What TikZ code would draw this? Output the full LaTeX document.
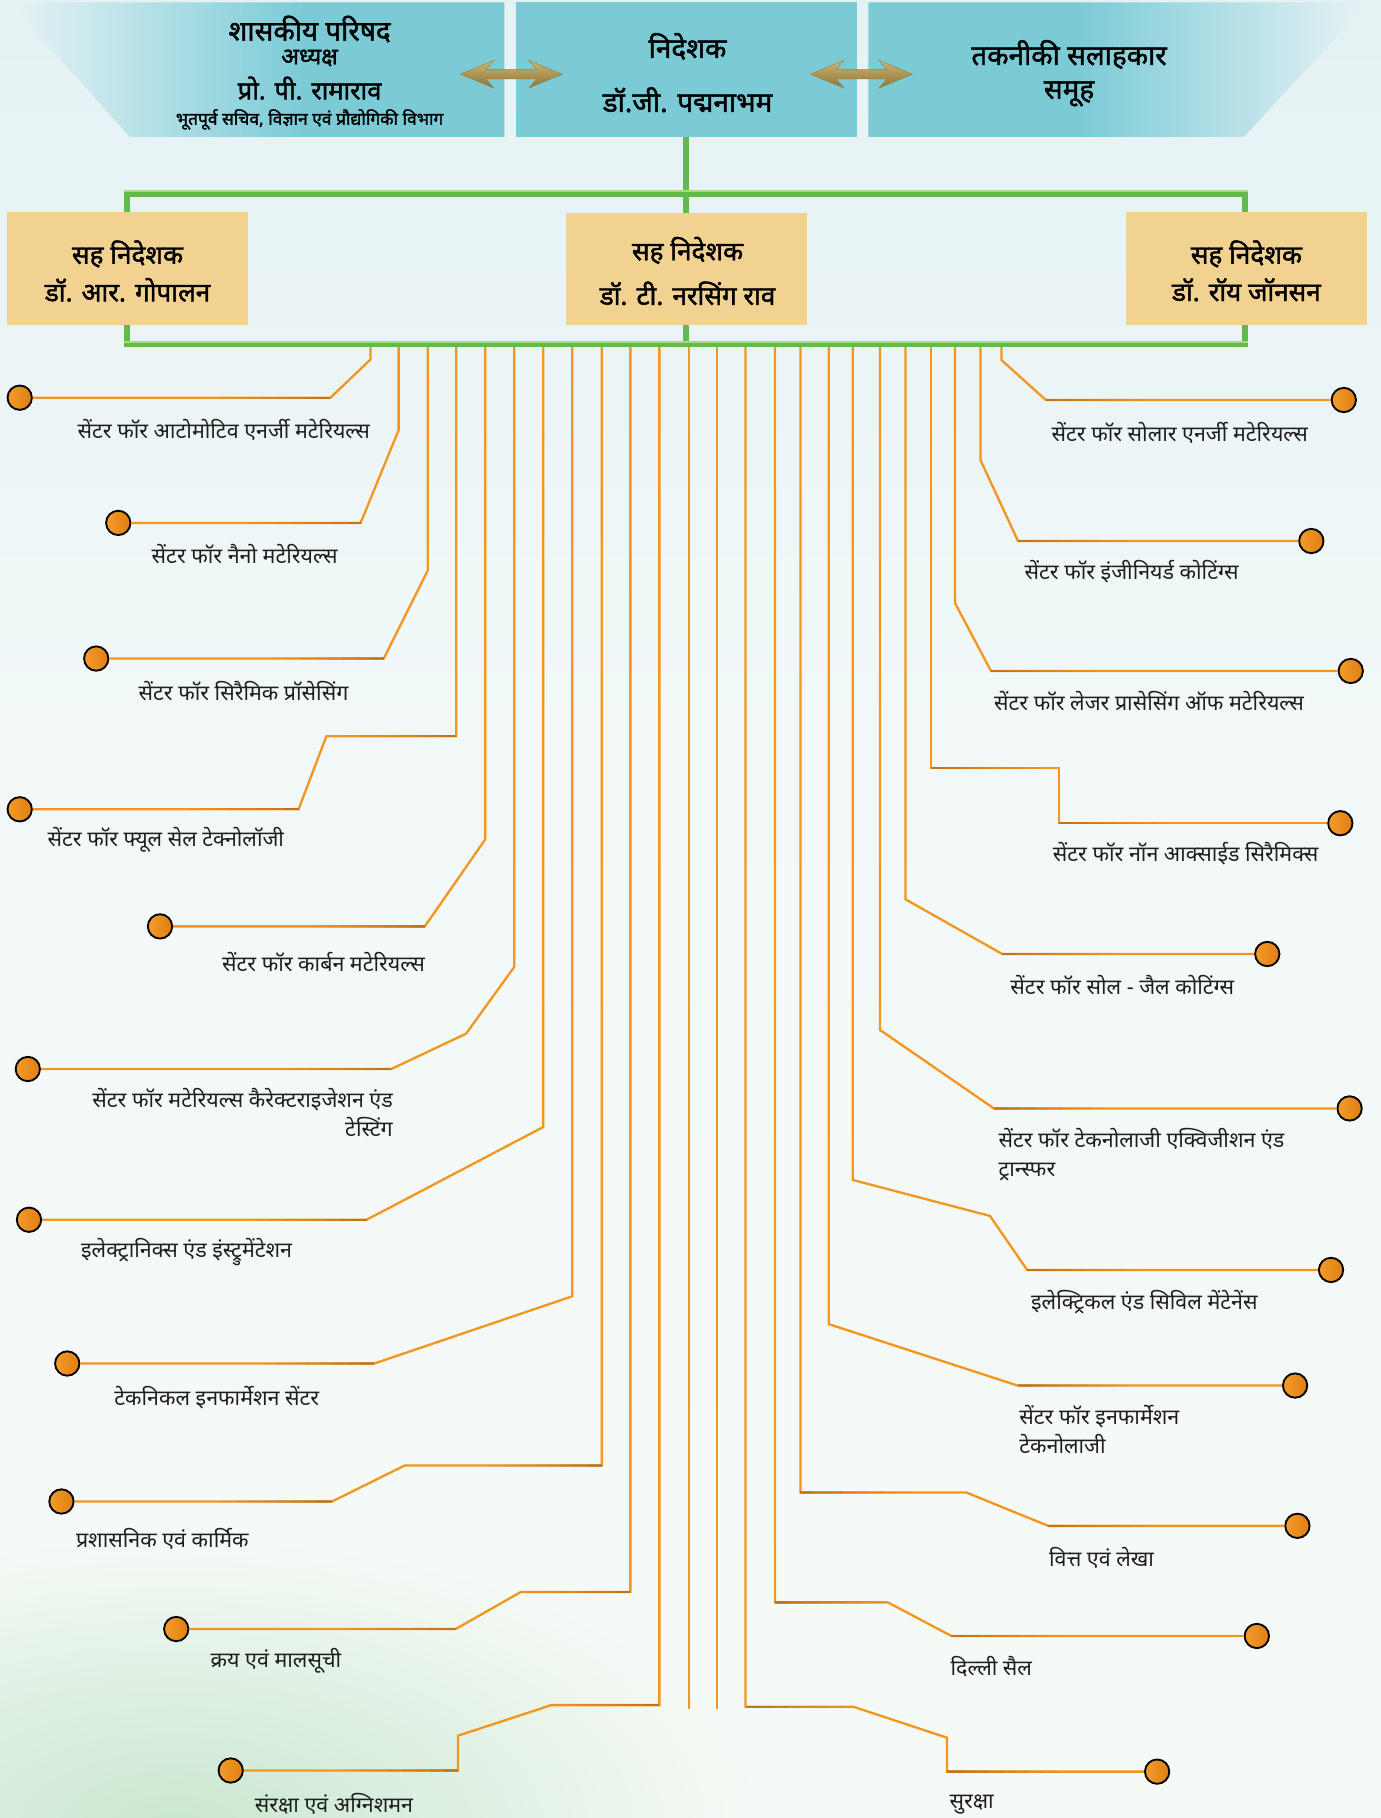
\documentclass[tikz,border=0pt]{standalone}
\usepackage{fontspec}
\usetikzlibrary{fadings}
\newfontfamily\dev[Script=Devanagari]{Noto Sans}
\newfontfamily\devb[Script=Devanagari, FakeBold=1.6]{Noto Sans}
\definecolor{cyanbox}{HTML}{7BCBD7}
\definecolor{cyanfade}{HTML}{E8F3F5}
\definecolor{wheatbox}{HTML}{F2D291}
\definecolor{gcol}{HTML}{62B94C}
\definecolor{glight}{HTML}{A9DB7E}
\definecolor{ocol}{HTML}{F2961F}
\definecolor{obrown}{HTML}{8A4E08}
\definecolor{txt}{HTML}{1E1E1E}
\definecolor{dotl}{HTML}{F39C2A}
\definecolor{dotr}{HTML}{E07E12}
\definecolor{goldt}{HTML}{CDB774}
\definecolor{goldm}{HTML}{FFFBE2}
\definecolor{goldb}{HTML}{8C7436}
\definecolor{goldd}{HTML}{9A8040}
\definecolor{bgtop}{HTML}{DAEDF1}
\definecolor{bgtop2}{HTML}{E1F0F3}
\definecolor{bgmid}{HTML}{F2F8F8}
\definecolor{bgmid2}{HTML}{F6FAF6}
\definecolor{bgbot}{HTML}{E6F1DF}
\definecolor{bggl}{HTML}{C9E7D0}
\pgfdeclareverticalshading{bgshade}{100bp}{color(0bp)=(bgbot); color(25bp)=(bgmid2); color(55bp)=(bgmid); color(80bp)=(bgtop2); color(100bp)=(bgtop)}
\tikzfading[name=blobfade, inner color=transparent!0, outer color=transparent!100]
\begin{document}
\begin{tikzpicture}[x=1pt,y=-1pt,
  oline/.style={draw=ocol, line width=2pt, line join=miter},
  tint/.style={draw=obrown, line width=2pt},
  gline/.style={draw=gcol, line width=5pt},
  dot/.style={circle, draw=black, line width=1.6pt, minimum size=21pt, inner sep=0pt, left color=dotl, right color=dotr},
  lbl/.style={font=\dev\fontsize{18.5}{25}\selectfont, text=txt, inner sep=0pt},
  hbig/.style={font=\devb\fontsize{24}{28}\selectfont, text=black, inner sep=0pt},
  hname/.style={font=\devb\fontsize{22}{26}\selectfont, text=black, inner sep=0pt},
  hmid/.style={font=\devb\fontsize{20}{24}\selectfont, text=black, inner sep=0pt},
  hsmall/.style={font=\devb\fontsize{15}{18}\selectfont, text=black, inner sep=0pt},
  sdbox/.style={rectangle, fill=wheatbox, minimum width=208pt, minimum height=97pt, inner sep=0pt},
  sdtxt/.style={font=\devb\fontsize{22.5}{26}\selectfont, text=black, inner sep=0pt},
  goldarrow/.style={top color=goldt, middle color=goldm, bottom color=goldb, draw=goldd, line width=0.4pt}
]
\useasboundingbox (0,0) rectangle (1191,1568);
% background
\shade[shading=bgshade] (0,0) rectangle (1191,1568);
\fill[bggl, path fading=blobfade] (-350,1330) rectangle (650,1820);

% header left trapezoid
\begin{scope}
  \clip (8,2) -- (435,2) -- (435,118) -- (112,118) -- cycle;
  \shade[left color=cyanfade, right color=cyanbox] (8,0) rectangle (262,120);
  \fill[cyanbox] (261,0) rectangle (436,120);
\end{scope}
% header middle box
\node[rectangle, fill=cyanbox, minimum width=294pt, minimum height=116pt, inner sep=0pt] (dir) at (592,60) {};
% header right trapezoid
\begin{scope}
  \clip (749,2) -- (1180,2) -- (1073,118) -- (749,118) -- cycle;
  \fill[cyanbox] (748,0) rectangle (931,120);
  \shade[left color=cyanbox, right color=cyanfade] (930,0) rectangle (1181,120);
\end{scope}

% header texts
\node[hbig] (gc1) at (267,25) {शासकीय परिषद};
\node[hmid] (gc2) at (267,50) {अध्यक्ष};
\node[hname] (gc3) at (267,76) {प्रो. पी. रामाराव};
\node[hsmall] (gc4) at (267,103) {भूतपूर्व सचिव, विज्ञान एवं प्रौद्योगिकी विभाग};
\node[hbig] (dr1) at (593,40) {निदेशक};
\node[hbig] (dr2) at (593,86) {डॉ.जी. पद्मनाभम};
\node[hbig] (ta1) at (922,47) {तकनीकी सलाहकार};
\node[hbig] (ta2) at (922,81) {समूह};

% gold double arrows
\coordinate (a1) at (441,64);
\coordinate (a2) at (743,64);
\foreach \c in {a1,a2}{
  \path[goldarrow] ([xshift=-44pt]\c) -- ([xshift=-15pt,yshift=-12pt]\c) -- ([xshift=-22pt,yshift=-4pt]\c)
    -- ([xshift=22pt,yshift=-4pt]\c) -- ([xshift=15pt,yshift=-12pt]\c) -- ([xshift=44pt]\c)
    -- ([xshift=15pt,yshift=12pt]\c) -- ([xshift=22pt,yshift=4pt]\c)
    -- ([xshift=-22pt,yshift=4pt]\c) -- ([xshift=-15pt,yshift=12pt]\c) -- cycle;
}

% orange connector tops
\foreach \n/\x in {L1/319.6,L2/343.8,L3/368.9,L4/393.5,L5/418.5,L6/443.5,L7/468.6,L8/493.6,L9/519,L10/543.7,L11/568.7,M1/594.1,M2/618.4,R11/643,R10/668.4,R9/690.4,R8/714.7,R7/735.5,R6/759,R5/780.9,R4/802.8,R3/823.6,R2/845.6,R1/863.7}
  {\coordinate (t\n) at (\x,298);}

% left dots
\node[dot] (dL1) at (17,343) {};
\node[dot] (dL2) at (102,451) {};
\node[dot] (dL3) at (83,568) {};
\node[dot] (dL4) at (17,698) {};
\node[dot] (dL5) at (138,799) {};
\node[dot] (dL6) at (24,922) {};
\node[dot] (dL7) at (25,1052) {};
\node[dot] (dL8) at (58,1176) {};
\node[dot] (dL9) at (53,1295) {};
\node[dot] (dL10) at (152,1405) {};
\node[dot] (dL11) at (199,1527) {};
% right dots
\node[dot] (dR1) at (1159,345) {};
\node[dot] (dR2) at (1131,466.6) {};
\node[dot] (dR3) at (1165,578.7) {};
\node[dot] (dR4) at (1156,710) {};
\node[dot] (dR5) at (1093,822.8) {};
\node[dot] (dR6) at (1164,956) {};
\node[dot] (dR7) at (1148,1095.3) {};
\node[dot] (dR8) at (1117,1195) {};
\node[dot] (dR9) at (1119,1316) {};
\node[dot] (dR10) at (1084,1411) {};
\node[dot] (dR11) at (998,1528) {};
% middle free ends
\coordinate (eM1) at (594.1,1474);
\coordinate (eM2) at (618.4,1474);

% left connectors
\draw[oline] (tL1) -- (319.6,310) -- (285,343) -- (dL1);
\draw[oline] (tL2) -- (343.8,371) -- (311,451) -- (dL2);
\draw[oline] (tL3) -- (368.9,492) -- (331,568) -- (dL3);
\draw[oline] (tL4) -- (393.5,635) -- (281.5,635) -- (257.5,698) -- (dL4);
\draw[oline] (tL5) -- (418.5,724) -- (366.4,799) -- (dL5);
\draw[oline] (tL6) -- (443.5,834) -- (402,891.5) -- (337.5,922) -- (dL6);
\draw[oline] (tL7) -- (468.6,972) -- (316.2,1052) -- (dL7);
\draw[oline] (tL8) -- (493.6,1118) -- (322.8,1176) -- (dL8);
\draw[oline] (tL9) -- (519,1264) -- (349,1264) -- (286.4,1295) -- (dL9);
\draw[oline] (tL10) -- (543.7,1373) -- (449.3,1373) -- (393,1405) -- (dL10);
\draw[oline] (tL11) -- (568.7,1470.6) -- (475.6,1470.6) -- (395,1497) -- (395,1527) -- (dL11);
% middle
\draw[oline] (tM1) -- (eM1);
\draw[oline] (tM2) -- (eM2);
% right connectors
\draw[oline] (tR1) -- (863.7,310.5) -- (902,345) -- (dR1);
\draw[oline] (tR2) -- (845.6,396.7) -- (878,466.6) -- (dR2);
\draw[oline] (tR3) -- (823.6,520) -- (854.7,578.7) -- (dR3);
\draw[oline] (tR4) -- (802.8,662.6) -- (913.3,662.6) -- (913.3,710) -- (dR4);
\draw[oline] (tR5) -- (780.9,775.6) -- (864.4,822.8) -- (dR5);
\draw[oline] (tR6) -- (759,888.3) -- (857.2,956) -- (dR6);
\draw[oline] (tR7) -- (735.5,1017.7) -- (853.8,1048.7) -- (885.9,1095.3) -- (dR7);
\draw[oline] (tR8) -- (714.7,1142) -- (877.6,1195) -- (dR8);
\draw[oline] (tR9) -- (690.4,1287.3) -- (833.6,1287.3) -- (904,1316) -- (dR9);
\draw[oline] (tR10) -- (668.4,1382) -- (765.7,1382) -- (820.6,1411) -- (dR10);
\draw[oline] (tR11) -- (643,1472) -- (736,1472) -- (816.7,1498.7) -- (816.7,1528) -- (dR11);

% darker tint near the bends of the horizontal runs (stepped opacity)
\foreach \bx/\by in {285/343,311/451,331/568,257.5/698,366.4/799,337.5/922,316.2/1052,322.8/1176,286.4/1295,393/1405,395/1527,393.5/635,519/1264,543.7/1373,568.7/1470.6}
  {\foreach \i/\op in {1/0.05,2/0.1,3/0.15,4/0.2,5/0.26,6/0.32,7/0.38,8/0.45}
    {\draw[tint, opacity=\op] (\bx-108+\i*12,\by) -- (\bx-96+\i*12,\by);}}
\foreach \bx/\by in {902/345,878/466.6,854.7/578.7,913.3/710,864.4/822.8,857.2/956,885.9/1095.3,877.6/1195,904/1316,820.6/1411,816.7/1528,802.8/662.6,690.4/1287.3,668.4/1382,643/1472}
  {\foreach \i/\op in {1/0.05,2/0.1,3/0.15,4/0.2,5/0.26,6/0.32,7/0.38,8/0.45}
    {\draw[tint, opacity=\op] (\bx+108-\i*12,\by) -- (\bx+96-\i*12,\by);}}

% green connectors
\coordinate (gBot) at (592,297);
\draw[gline] (dir.south) -- (gBot);
\draw[gline] (109.5,167) rectangle (1073.5,297);
\draw[draw=glight, line width=1.2pt] (107,164.8) -- (1076,164.8);
\draw[draw=glight, line width=1.2pt] (107,294.8) -- (1076,294.8);

% co-director boxes
\node[sdbox] (sd1) at (110,231.5) {};
\node[sdbox] (sd2) at (592,232) {};
\node[sdbox] (sd3) at (1075,231.5) {};
\node[sdtxt] (sd1a) at (110,219) {सह निदेशक};
\node[sdtxt] (sd1b) at (110,250) {डॉ. आर. गोपालन};
\node[sdtxt] (sd2a) at (593,216) {सह निदेशक};
\node[sdtxt] (sd2b) at (593,253) {डॉ. टी. नरसिंग राव};
\node[sdtxt] (sd3a) at (1075,219) {सह निदेशक};
\node[sdtxt] (sd3b) at (1075,250) {डॉ. रॉय जॉनसन};

% left labels
\node[lbl] (lL1) at (193,371) {सेंटर फॉर आटोमोटिव एनर्जी मटेरियल्स};
\node[lbl] (lL2) at (211,478) {सेंटर फॉर नैनो मटेरियल्स};
\node[lbl] (lL3) at (210,596) {सेंटर फॉर सिरैमिक प्रॉसेसिंग};
\node[lbl] (lL4) at (143,724) {सेंटर फॉर फ्यूल सेल टेक्नोलॉजी};
\node[lbl] (lL5) at (279,830) {सेंटर फॉर कार्बन मटेरियल्स};
\node[lbl, align=right, anchor=north east] (lL6) at (339,938) {सेंटर फॉर मटेरियल्स कैरेक्टराइजेशन एंड\\टेस्टिंग};
\node[lbl] (lL7) at (161,1080) {इलेक्ट्रानिक्स एंड इंस्ट्रुमेंटेशन};
\node[lbl] (lL8) at (187,1205) {टेकनिकल इनफार्मेशन सेंटर};
\node[lbl] (lL9) at (140,1327) {प्रशासनिक एवं कार्मिक};
\node[lbl] (lL10) at (238,1432) {क्रय एवं मालसूची};
\node[lbl] (lL11) at (288,1556) {संरक्षा एवं अग्निशमन};
% right labels
\node[lbl] (lR1) at (1017.5,373) {सेंटर फॉर सोलार एनर्जी मटेरियल्स};
\node[lbl] (lR2) at (976,493) {सेंटर फॉर इंजीनियर्ड कोटिंग्स};
\node[lbl] (lR3) at (991,604.5) {सेंटर फॉर लेजर प्रासेसिंग ऑफ मटेरियल्स};
\node[lbl] (lR4) at (1022.6,736) {सेंटर फॉर नॉन आक्साईड सिरैमिक्स};
\node[lbl] (lR5) at (968,850) {सेंटर फॉर सोल - जैल कोटिंग्स};
\node[lbl, align=left, anchor=north west] (lR6) at (861,973) {सेंटर फॉर टेकनोलाजी एक्विजीशन एंड\\ट्रान्स्फर};
\node[lbl] (lR7) at (987,1123) {इलेक्ट्रिकल एंड सिविल मेंटेनेंस};
\node[lbl, align=left, anchor=north west] (lR8) at (879,1212) {सेंटर फॉर इनफार्मेशन\\टेकनोलाजी};
\node[lbl] (lR9) at (950,1344) {वित्त एवं लेखा};
\node[lbl] (lR10) at (855,1437) {दिल्ली सैल};
\node[lbl] (lR11) at (838,1556) {सुरक्षा};
\end{tikzpicture}
\end{document}
